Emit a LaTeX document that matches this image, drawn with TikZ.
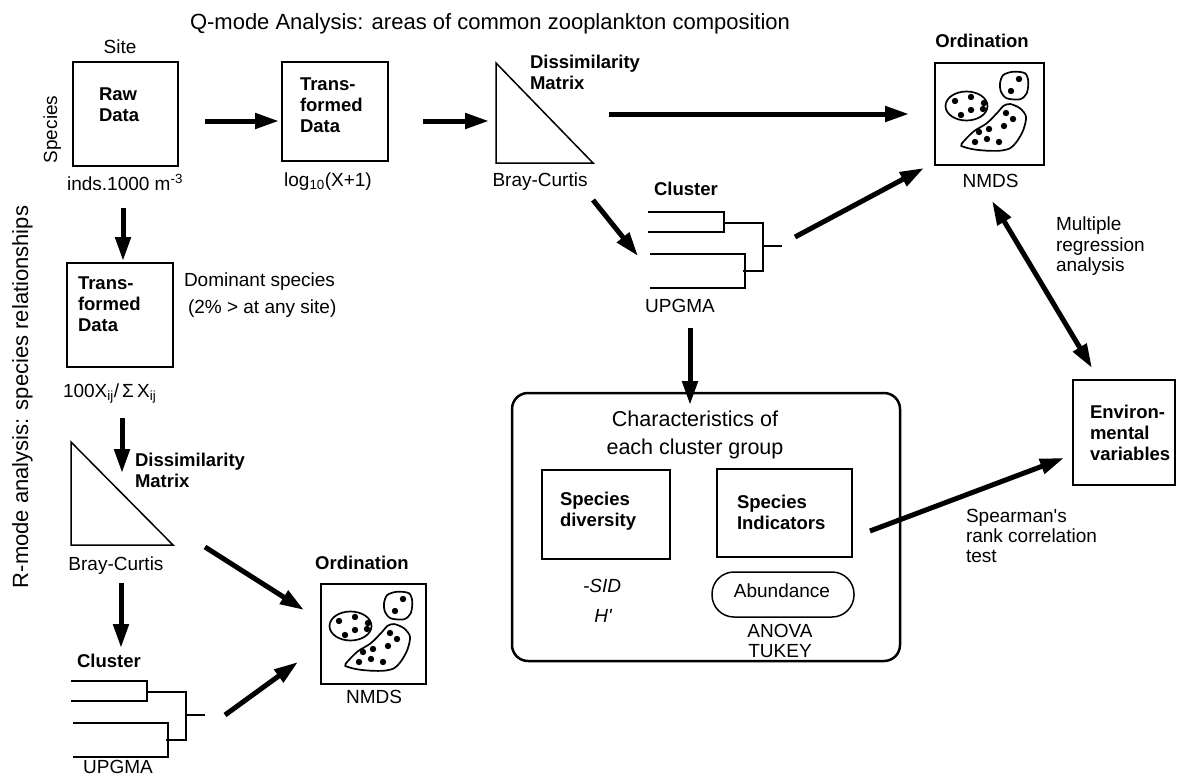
\documentclass[tikz,border=0pt]{standalone}
\usepackage{fontspec}
\setmainfont{Liberation Sans}
\usetikzlibrary{arrows.meta}
\begin{document}
\begin{tikzpicture}[x=1pt,y=-1pt,
  every node/.style={inner sep=0pt,outer sep=0pt},
  norm/.style={font=\fontsize{19}{21}\selectfont},
  ttl/.style={font=\fontsize{22}{26}\selectfont},
  bigt/.style={font=\fontsize{21.5}{28}\selectfont},
  bold/.style={font=\fontsize{18.5}{21}\selectfont\bfseries,align=left,anchor=north west},
  bolds/.style={font=\fontsize{18.5}{21}\selectfont\bfseries,anchor=base},
  box/.style={draw,line width=1.5pt},
  thin/.style={line width=1.3pt},
  blob/.style={line width=1.7pt},
  arr/.style={line width=5pt,-{Triangle[length=24pt,width=15pt]}},
  darr/.style={line width=5pt,{Triangle[length=24pt,width=15pt]}-{Triangle[length=24pt,width=15pt]}},
  ordpic/.pic={
    \draw[blob] (-23,-8) ellipse [x radius=21pt, y radius=14.5pt];
    \draw[blob] plot[smooth cycle] coordinates {(10.5,-30.7) (13.8,-39) (23.8,-42.3) (35.5,-40.7) (38.8,-32.3) (37.2,-20.7) (30.5,-14.7) (17.2,-15.7) (11.5,-22.3)};
    \draw[blob] plot[smooth cycle] coordinates {(-28,30) (-16.2,17.7) (-2.8,9.3) (8.8,-2.3) (13.8,-8) (20.5,-10) (30.5,-5.7) (36.5,2.7) (33.8,16) (27.2,27.7) (20.5,34.3) (10.5,36.7) (-2.8,36.7) (-16.2,35.3) (-26.2,32.7)};
    \foreach \a/\b in {-34.5/-13,-18.5/-17,-5.5/-11,-18.5/-4,-6.5/-5,-28.5/1,29.5/-35,21.5/-23,16.5/-1,23.5/5,14.5/12,-0.5/15,-10.5/18,-2.5/25,-14.5/28,9.5/28}
      \fill (\a,\b) circle (3.2pt);
  },
  dendro/.pic={
    \draw[thin] (0,0) -- (76,0) -- (76,20) -- (0,20);
    \draw[thin] (76,11) -- (115,11) -- (115,59) -- (95,59);
    \draw[thin] (2,42) -- (97,42) -- (97,76) -- (2,76);
    \draw[thin] (115,34) -- (134,34);
  }
]
\fill[white] (0,0) rectangle (1177,776);
\useasboundingbox (0,0) rectangle (1177,776);

% titles
\node[ttl,anchor=base] (title) at (490,30) {Q-mode Analysis: areas of common zooplankton composition};
\node[ttl,rotate=90,anchor=base] (rmode) at (28,397) {R-mode analysis: species relationships};

% raw data
\node[norm,anchor=base] (site) at (120,53) {Site};
\node[norm,rotate=90,anchor=base] (species) at (57,129.5) {Species};
\node[box,minimum width=105pt,minimum height=104pt] (raw) at (125.5,114) {};
\node[bold] (rawt) at (99,88) {Raw\\Data};
\node[norm,anchor=base] (inds) at (125,190) {inds.1000 m\textsuperscript{-3}};

% transformed (Q)
\node[box,minimum width=106pt,minimum height=99pt] (tr1) at (335,111.5) {};
\node[bold] (tr1t) at (300,78) {Trans-\\formed\\Data};
\node[norm,anchor=base] (log) at (328,186) {log\textsubscript{10}(X+1)};

% dissimilarity (Q)
\draw[box] (496,63) coordinate (dm1a) -- (496,163) -- (593,163) -- cycle;
\node[bold] (dm1t) at (530,55) {Dissimilarity\\Matrix};
\node[norm,anchor=base] (bc1) at (540,186) {Bray-Curtis};

% ordination (Q)
\node[bolds] (ord1t) at (982,48) {Ordination};
\node[box,minimum width=109pt,minimum height=102pt] (ord1) at (989.5,114) {};
\pic at (ord1.center) {ordpic};
\node[norm,anchor=base] (nmds1) at (990.5,187) {NMDS};

% cluster (Q)
\node[bolds] (cl1t) at (686,195) {Cluster};
\pic at (648,212) {dendro};
\node[norm,anchor=base] (up1) at (680,312) {UPGMA};

% characteristics
\node[draw,line width=2.5pt,rounded corners=16pt,minimum width=388pt,minimum height=268pt] (char) at (706,527) {};
\node[bigt,align=center,anchor=north] (chart) at (695,411) {Characteristics of\\each cluster group};
\node[box,minimum width=128pt,minimum height=89pt] (div) at (606,514.5) {};
\node[bold] (divt) at (560,492) {Species\\diversity};
\node[box,minimum width=135pt,minimum height=88pt] (ind) at (784.5,513) {};
\node[bold] (indt) at (737,495) {Species\\Indicators};
\node[norm,anchor=base] (sid) at (602,592) {\itshape -SID};
\node[norm,anchor=base] (hp) at (603,622) {\itshape H\textquotesingle};
\node[box,rounded corners=22pt,minimum width=142pt,minimum height=45pt] (abund) at (783,594.5) {};
\node[norm,anchor=base] (abt) at (782,597) {Abundance};
\node[font=\fontsize{19}{20}\selectfont,align=center,anchor=north] (anova) at (780,624) {ANOVA\\TUKEY};

% environmental
\node[box,minimum width=102pt,minimum height=105pt] (env) at (1124,432.5) {};
\node[bold] (envt) at (1090,405) {Environ-\\mental\\variables};
\node[font=\fontsize{19}{20.5}\selectfont,align=left,anchor=north west] (mult) at (1056,217) {Multiple\\regression\\analysis};
\node[font=\fontsize{19}{20}\selectfont,align=left,anchor=north west] (spear) at (966,509) {Spearman\textquotesingle s\\rank correlation\\test};

% R-mode column
\node[box,minimum width=106pt,minimum height=104pt] (tr2) at (120,315) {};
\node[bold] (tr2t) at (78,277) {Trans-\\formed\\Data};
\node[font=\fontsize{19}{27}\selectfont,align=left,anchor=base west] (dom) at (184,313) {Dominant species\\\hspace*{4pt}(2\% > at any site)};
\node[norm,anchor=base west] (pct) at (63,397) {100X\textsubscript{ij}/\,Σ\,X\textsubscript{ij}};
\draw[box] (71,442) coordinate (dm2a) -- (71,545) -- (173,545) -- cycle;
\node[bold] (dm2t) at (135,453) {Dissimilarity\\Matrix};
\node[norm,anchor=base] (bc2) at (116,570) {Bray-Curtis};
\node[bolds] (cl2t) at (109,667) {Cluster};
\pic at (71,681) {dendro};
\node[norm,anchor=base] (up2) at (118,773) {UPGMA};
\node[bolds] (ord2t) at (362,569) {Ordination};
\node[box,minimum width=105pt,minimum height=100pt] (ord2) at (373.5,634) {};
\pic at (ord2.center) {ordpic};
\node[norm,anchor=base] (nmds2) at (374,703) {NMDS};

% connector end points
\coordinate (a1s) at (205,121);  \coordinate (a1e) at (279,121);
\coordinate (a2s) at (423,121);  \coordinate (a2e) at (489,121);
\coordinate (a3s) at (609,114);  \coordinate (a3e) at (909,114);
\coordinate (a4s) at (593,200);  \coordinate (a4e) at (638,256);
\coordinate (a5s) at (795,237);  \coordinate (a5e) at (924,168);
\coordinate (a6s) at (690,328);  \coordinate (a6e) at (690,405);
\coordinate (a7s) at (870,531);  \coordinate (a7e) at (1064,458);
\coordinate (a8s) at (992,201);  \coordinate (a8e) at (1092,368);
\coordinate (a9s) at (123,208);  \coordinate (a9e) at (123,261);
\coordinate (a10s) at (122,418); \coordinate (a10e) at (122,473);
\coordinate (a11s) at (121,583); \coordinate (a11e) at (121,648);
\coordinate (a12s) at (205,547); \coordinate (a12e) at (304,610);
\coordinate (a13s) at (225,715); \coordinate (a13e) at (298,662);

\draw[arr] (a1s) -- (a1e);
\draw[arr] (a2s) -- (a2e);
\draw[arr] (a3s) -- (a3e);
\draw[arr] (a4s) -- (a4e);
\draw[arr] (a5s) -- (a5e);
\draw[arr] (a6s) -- (a6e);
\draw[arr] (a7s) -- (a7e);
\draw[darr] (a8s) -- (a8e);
\draw[arr] (a9s) -- (a9e);
\draw[arr] (a10s) -- (a10e);
\draw[arr] (a11s) -- (a11e);
\draw[arr] (a12s) -- (a12e);
\draw[arr] (a13s) -- (a13e);
\end{tikzpicture}
\end{document}
